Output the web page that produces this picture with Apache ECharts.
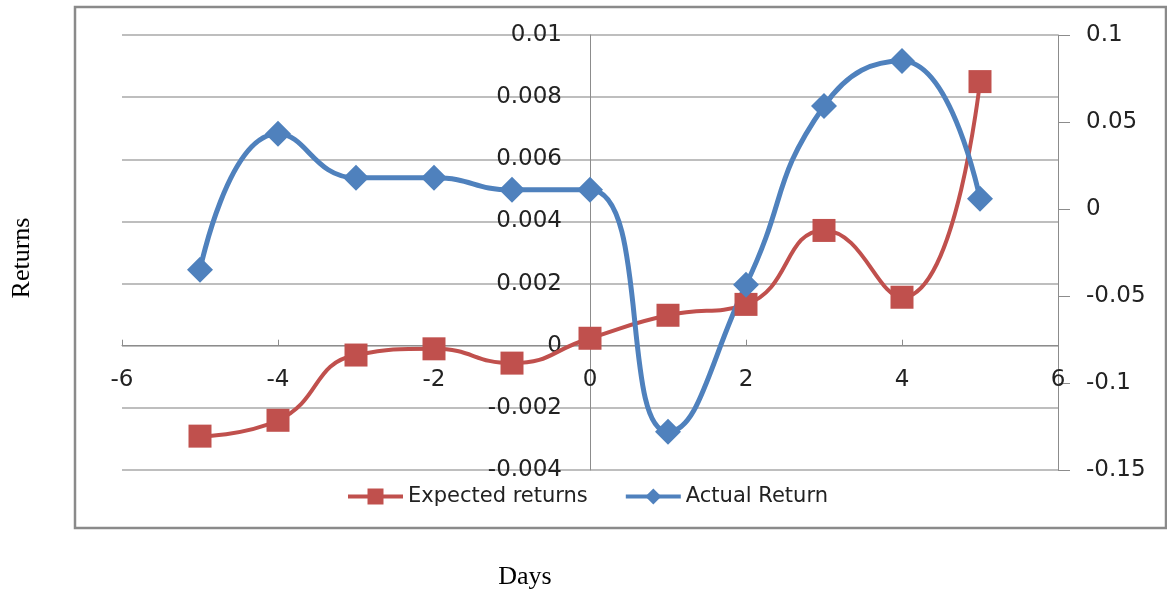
<!DOCTYPE html>
<html>
<head>
<meta charset="utf-8">
<script src="https://cdn.jsdelivr.net/npm/echarts@6/dist/echarts.min.js"></script>
<style>
  html, body { margin: 0; padding: 0; background: #fff; }
  #chart { width: 1167px; height: 595px; }
</style>
</head>
<body>
<div id="chart"></div>
<script>
// 数据
const days = [-5, -4, -3, -2, -1, 0, 1, 2, 3, 4, 5];
const expectedReturns = [-0.00291, -0.0024, -0.0003, -0.0001, -0.00056, 0.00024, 0.00098, 0.00133, 0.00371, 0.00156, 0.0085];
const actualReturn = [-0.0349, 0.0432, 0.0179, 0.0179, 0.011, 0.011, -0.128, -0.0435, 0.0592, 0.0851, 0.0059];

const labelFont = { color: '#222', fontSize: 23, fontFamily: 'DejaVu Sans' };

function pairs(xs, ys) {
    return xs.map((x, i) => [x, ys[i]]);
}

// 网格尺寸 (坐标轴交叉于零点)
const gridLeft = 122, gridRight = 109, gridTop = 35, gridBottom = 125;
const plotW = 1167 - gridLeft - gridRight;
const plotH = 595 - gridTop - gridBottom;
const xMin = -6, xMax = 6, yMin = -0.004, yMax = 0.01;
const yAxisOffset = -plotW * (0 - xMin) / (xMax - xMin);
const xAxisOffset = -plotH * (0 - yMin) / (yMax - yMin);

const chart = echarts.init(document.getElementById('chart'));

chart.setOption({
    animation: false,
    backgroundColor: '#fff',
    grid: { left: gridLeft, right: gridRight, top: gridTop, bottom: gridBottom },
    legend: {
        left: 341,
        top: 481,
        itemWidth: 55,
        itemHeight: 20,
        itemGap: 36,
        lineStyle: { width: 4 },
        textStyle: { color: '#222', fontSize: 21, fontFamily: 'DejaVu Sans' },
        data: ['Expected returns', 'Actual Return']
    },
    xAxis: {
        type: 'value',
        min: xMin,
        max: xMax,
        interval: 2,
        offset: xAxisOffset,
        axisLine: { onZero: false, lineStyle: { color: '#8c8c8c', width: 1 } },
        axisTick: { show: true, inside: true, length: 6, lineStyle: { color: '#8c8c8c' } },
        axisLabel: Object.assign({ margin: 23 }, labelFont),
        splitLine: { show: false }
    },
    yAxis: [
        {
            type: 'value',
            min: yMin,
            max: yMax,
            interval: 0.002,
            offset: yAxisOffset,
            axisLine: { show: true, onZero: false, lineStyle: { color: '#8c8c8c', width: 1 } },
            axisTick: { show: false },
            axisLabel: Object.assign({ margin: 28 }, labelFont),
            splitLine: { show: true, lineStyle: { color: '#a8a8a8', width: 1.5 } }
        },
        {
            type: 'value',
            position: 'right',
            min: -0.15,
            max: 0.1,
            interval: 0.05,
            axisLine: { show: true, onZero: false, lineStyle: { color: '#8c8c8c', width: 1 } },
            axisTick: { show: true, length: 12, lineStyle: { color: '#8c8c8c' } },
            axisLabel: Object.assign({ margin: 28 }, labelFont),
            splitLine: { show: false }
        }
    ],
    series: [
        {
            name: 'Expected returns',
            type: 'line',
            yAxisIndex: 0,
            smooth: 0.5,
            symbol: 'rect',
            symbolSize: 23,
            lineStyle: { width: 4, color: '#C0504D' },
            itemStyle: { color: '#C0504D' },
            data: pairs(days, expectedReturns)
        },
        {
            name: 'Actual Return',
            type: 'line',
            yAxisIndex: 1,
            smooth: 0.5,
            symbol: 'diamond',
            symbolSize: 26,
            lineStyle: { width: 5, color: '#4F81BD' },
            itemStyle: { color: '#4F81BD' },
            data: pairs(days, actualReturn)
        }
    ],
    graphic: [
        {
            type: 'rect',
            shape: { x: 75, y: 7, width: 1091, height: 521 },
            style: { fill: 'none', stroke: '#8a8a8a', lineWidth: 2.5 },
            silent: true
        },
        {
            type: 'text',
            x: 22,
            y: 258,
            rotation: Math.PI / 2,
            style: {
                text: 'Returns',
                font: '26px "Liberation Serif"',
                fill: '#000',
                textAlign: 'center',
                textVerticalAlign: 'middle'
            }
        },
        {
            type: 'text',
            x: 525,
            y: 577,
            style: {
                text: 'Days',
                font: '26px "Liberation Serif"',
                fill: '#000',
                textAlign: 'center',
                textVerticalAlign: 'middle'
            }
        }
    ]
});
</script>
</body>
</html>
